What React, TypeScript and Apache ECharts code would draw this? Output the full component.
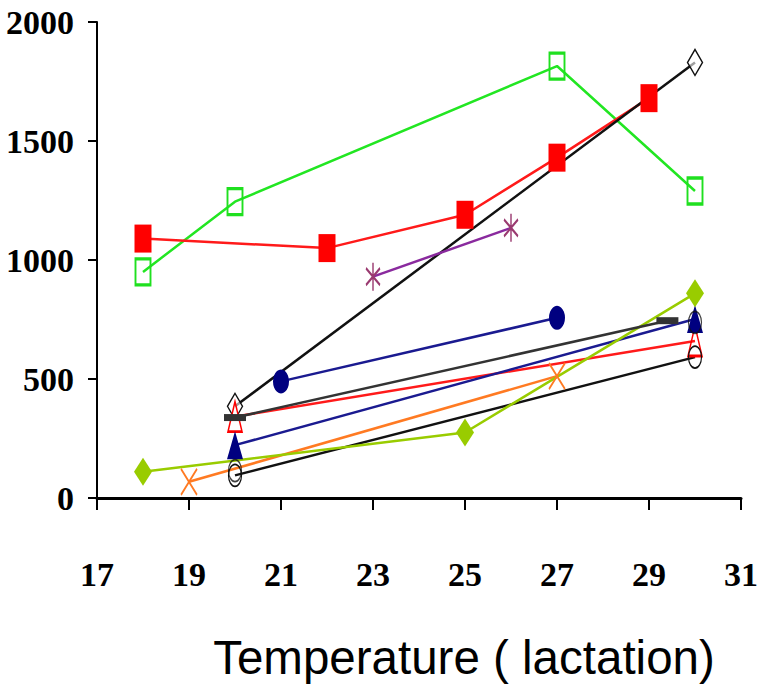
import React, { useEffect, useRef } from "react";
import * as echarts from "echarts";

// Temperature categories / axis ticks
const xTicksMin = 17;
const xTicksMax = 31;
const yMin = 0;
const yMax = 2000;

// Series values (x = temperature, y = value)
const greenSqX = [18, 20, 27, 30];
const greenSqY = [950, 1245, 1815, 1290];

const redSqX = [18, 22, 25, 27, 29];
const redSqY = [1090, 1050, 1190, 1430, 1680];

const blackDiamondX = [20, 30];
const blackDiamondY = [385, 1830];

const purpleStarX = [23, 26];
const purpleStarY = [930, 1135];

const navyCircleX = [21, 27];
const navyCircleY = [490, 757];

const dashX = [20, 29.4];
const dashY = [338, 745];

const redTriX = [20, 30];
const redTriY = [342, 660];

const navyTriX = [20, 30];
const navyTriY = [222, 752];

const blackCircleX = [20, 30];
const blackCircleY = [95, 592];

const extraCircleX = [20, 30];
const extraCircleY = [115, 738];

const orangeXX = [19, 27];
const orangeXY = [68, 512];

const ygDiamondX = [18, 25, 30];
const ygDiamondY = [110, 275, 860];

const pairs = (xs: number[], ys: number[]) => xs.map((x, i) => [x, ys[i]]);

const SQ = "path://M0 0H10V10H0Z";
const DIA = "path://M5 0L10 5L5 10L0 5Z";
const TRI = "path://M5 0L10 10L0 10Z";
const CIRC = "path://M0 5A5 5 0 1 0 10 5A5 5 0 1 0 0 5Z";
const XSYM = "path://M0 0L10 10M10 0L0 10";
const STAR = "path://M5 0L5 10M0 2L10 8M0 8L10 2";

function lineSeries(
  name: string,
  xs: number[],
  ys: number[],
  lineColor: string,
  symbol: string,
  size: number[],
  item: any,
  z = 2
) {
  return {
    name,
    type: "line",
    data: pairs(xs, ys),
    symbol,
    symbolSize: size,
    showSymbol: true,
    z,
    lineStyle: { color: lineColor, width: 2.5 },
    itemStyle: item,
    emphasis: { disabled: true },
  };
}

export default function App() {
  const ref = useRef<HTMLDivElement>(null);
  useEffect(() => {
    if (!ref.current) return;
    const chart = echarts.init(ref.current, undefined, { renderer: "svg" });
    const labelFont = {
      fontFamily: "'Liberation Serif', 'Times New Roman', serif",
      fontWeight: "bold" as const,
      fontSize: 34,
      color: "#000",
      formatter: (v: number) => String(v),
    };
    chart.setOption({
      animation: false,
      backgroundColor: "#fff",
      grid: { left: 97, right: 18, top: 22, bottom: 187, containLabel: false },
      xAxis: {
        type: "value",
        min: xTicksMin,
        max: xTicksMax,
        interval: 2,
        splitLine: { show: false },
        axisLine: { show: true, onZero: false, lineStyle: { color: "#000", width: 3 } },
        axisTick: { show: true, inside: false, length: 12, lineStyle: { color: "#000", width: 2 } },
        axisLabel: { ...labelFont, margin: 59 },
      },
      yAxis: {
        type: "value",
        min: yMin,
        max: yMax,
        interval: 500,
        splitLine: { show: false },
        axisLine: { show: true, lineStyle: { color: "#000", width: 2 } },
        axisTick: { show: true, inside: false, length: 9, lineStyle: { color: "#000", width: 2 } },
        axisLabel: { ...labelFont, margin: 23 },
      },
      graphic: [
        {
          type: "text",
          x: 464,
          y: 657,
          style: {
            text: "Temperature ( lactation)",
            fontFamily: "'Liberation Sans', Arial, sans-serif",
            fontSize: 47.5,
            fill: "#000",
            align: "center",
            verticalAlign: "middle",
          },
        },
      ],
      series: [
        lineSeries("Green", greenSqX, greenSqY, "#22e622", SQ, [15, 26], {
          color: "transparent",
          borderColor: "#1fe01f",
          borderWidth: 2.5,
        }),
        lineSeries("Red", redSqX, redSqY, "#ff1a1a", "rect", [17, 28], {
          color: "#ff0000",
          borderWidth: 0,
        }),
        lineSeries("BlackDiamond", blackDiamondX, blackDiamondY, "#111", DIA, [15, 26], {
          color: "rgba(255,255,255,0.6)",
          borderColor: "#111",
          borderWidth: 1.5,
        }),
        lineSeries("Purple", purpleStarX, purpleStarY, "#8a2a9e", STAR, [14, 28], {
          color: "transparent",
          borderColor: "#9a3a70",
          borderWidth: 2,
        }),
        lineSeries("NavyCircle", navyCircleX, navyCircleY, "#1a1a90", "circle", [16, 24], {
          color: "#000080",
          borderWidth: 0,
        }),
        lineSeries("RedTri", redTriX, redTriY, "#ff1a1a", TRI, [14, 30], {
          color: "transparent",
          borderColor: "#ff0000",
          borderWidth: 2,
        }),
        lineSeries("Dash", dashX, dashY, "#333", "rect", [22, 7], {
          color: "#333333",
          borderWidth: 0,
        }, 3),
        lineSeries("NavyTri", navyTriX, navyTriY, "#1a1a90", "triangle", [16, 28], {
          color: "#000080",
          borderWidth: 0,
        }),
        lineSeries("BlackCircle", blackCircleX, blackCircleY, "#111", CIRC, [13, 22], {
          color: "transparent",
          borderColor: "#111",
          borderWidth: 1.5,
        }),
        {
          name: "ExtraCircle",
          type: "scatter",
          data: pairs(extraCircleX, extraCircleY),
          symbol: CIRC,
          symbolSize: [13, 22],
          itemStyle: { color: "transparent", borderColor: "#111", borderWidth: 1.5 },
          emphasis: { disabled: true },
        },
        lineSeries("Orange", orangeXX, orangeXY, "#ff7a22", XSYM, [16, 26], {
          color: "transparent",
          borderColor: "#ff7a22",
          borderWidth: 2,
        }),
        lineSeries("YellowGreen", ygDiamondX, ygDiamondY, "#99cc00", "diamond", [18, 28], {
          color: "#99cc00",
          borderWidth: 0,
        }),
      ],
    });
    return () => chart.dispose();
  }, []);
  return <div ref={ref} style={{ width: 761, height: 685, position: "absolute", left: 0, top: 0 }} />;
}
